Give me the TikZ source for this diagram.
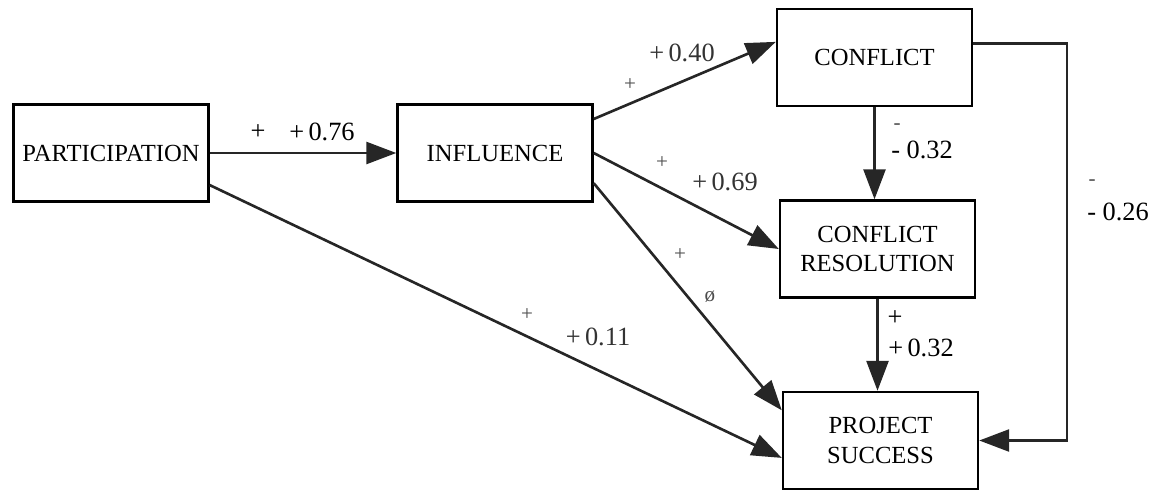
\documentclass[tikz,border=0pt]{standalone}
\usepackage{fontspec}
\setmainfont{Liberation Serif}
\usetikzlibrary{arrows.meta}

\begin{document}
\begin{tikzpicture}[x=0.02cm,y=-0.02cm,
  var/.style={draw,line width=1.4pt,minimum width=3.9cm,minimum height=1.94cm,
    align=center,font=\fontsize{14}{17}\selectfont},
  path/.style={line width=1.5pt,draw=black!85,-{Triangle[length=0.6cm,width=0.44cm]}},
  val/.style={font=\fontsize{15}{17}\selectfont},
  sgn/.style={font=\fontsize{12}{13}\selectfont,text=black!70}]
 \useasboundingbox (0,0) rectangle (1152,490);

 % the five variables
 \node[var] (part) at (111,153) {PARTICIPATION};
 \node[var] (inf) at (495,153) {INFLUENCE};
 \node[var] (conf) at (874.5,57.5) {CONFLICT};
 \node[var] (cr) at (877.5,249) {CONFLICT\\RESOLUTION};
 \node[var] (ps) at (880.5,440.5) {PROJECT\\SUCCESS};
 \coordinate (rt) at (1067,240);

 % paths
 \draw[path] (part.east) -- (inf.west);
 \draw[path] (part.-18) -- (ps.190);
 \draw[path] (inf.19) -- (conf.171);
 \draw[path] (inf.east) -- (cr.west);
 \draw[path] (inf.-17) -- (ps.163);
 \draw[path] (conf.south) -- (conf.south |- cr.north);
 \draw[path] (cr.south) -- (cr.south |- ps.north);
 \draw[path] (conf.8) -- (conf.8 -| rt) -- (rt |- ps.east) -- (ps.east);

 % coefficients
 \node[val] (s76) at (258,132) {+};
 \node[val] (v76) at (322,132) {+\,0.76};
 \node[sgn] (s40) at (630,85) {+};
 \node[val,text=black!80] (v40) at (682,53) {+\,0.40};
 \node[sgn] (s69) at (662,163) {+};
 \node[val,text=black!80] (v69) at (725,182) {+\,0.69};
 \node[sgn] (sps) at (680,255) {+};
 \node[sgn] (vps) at (710,297) {ø};
 \node[sgn] (s11) at (527,315) {+};
 \node[val,text=black!80] (v11) at (598,337) {+\,0.11};
 \node[sgn] (s32) at (897,127) {-};
 \node[val] (v32) at (922,150) {- 0.32};
 \node[sgn] (s26) at (1092,183) {-};
 \node[val] (v26) at (1118,212) {- 0.26};
 \node[val] (sr32) at (895,318) {+};
 \node[val] (vr32) at (921,348) {+\,0.32};
\end{tikzpicture}
\end{document}
